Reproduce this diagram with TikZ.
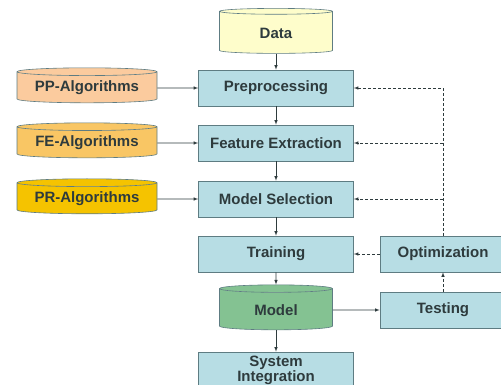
\documentclass[tikz,border=0pt]{standalone}
\usepackage{fontspec}
\setmainfont{Liberation Sans}
\usepackage{tikz}
\usetikzlibrary{shapes.geometric,calc,positioning}
\definecolor{colorbox}{HTML}{B7DDE4}
\definecolor{colorline}{HTML}{5E7C82}
\definecolor{colordata}{HTML}{FEFDCB}
\definecolor{colorpp}{HTML}{FBCB9E}
\definecolor{colorfe}{HTML}{F9C664}
\definecolor{colorpr}{HTML}{F5C300}
\definecolor{colormodel}{HTML}{84C292}
\definecolor{colortext}{HTML}{2E3B3D}
\tikzset{
  stepbox/.style={draw=colorline, fill=colorbox, minimum width=155pt, minimum height=36pt, align=center},
  store/.style={cylinder, shape border rotate=90, draw=colorline, aspect=0.15, cylinder uses custom fill,
    minimum width=113pt, minimum height=45pt},
  algstore/.style={store, aspect=0.07, minimum width=140pt, minimum height=35pt},
  edgeflow/.style={colortext, -latex},
  edgeback/.style={colortext, densely dashed, -latex}
}

\begin{document}
\begin{tikzpicture}[x=1pt, y=-1pt, font=\fontsize{15}{16}\selectfont\bfseries, text=colortext, line width=0.6pt]
\useasboundingbox (0,0) rectangle (501,385);
\node[store, cylinder body fill=colordata, cylinder end fill=colordata] (data) at (276,33) {Data};
\node[stepbox] (pre) at (276,88) {Preprocessing};
\node[stepbox] (fe) at (276,143) {Feature Extraction};
\node[stepbox] (ms) at (276,199) {Model Selection};
\node[stepbox] (train) at (276,254) {Training};
\node[store, cylinder body fill=colormodel, cylinder end fill=colormodel] (model) at (276,310) {Model};
\node[stepbox, minimum height=36pt, inner sep=1pt, font=\fontsize{15}{15}\selectfont\bfseries] (sysint) at (276,370) {System\\Integration};
\node[algstore, cylinder body fill=colorpp, cylinder end fill=colorpp] (ppalg) at (87,88) {PP-Algorithms};
\node[algstore, cylinder body fill=colorfe, cylinder end fill=colorfe] (fealg) at (87,143) {FE-Algorithms};
\node[algstore, cylinder body fill=colorpr, cylinder end fill=colorpr] (pralg) at (87,199) {PR-Algorithms};
\node[stepbox, minimum width=126pt] (opt) at (443,254) {Optimization};
\node[stepbox, minimum width=126pt] (test) at (443,310) {Testing};
% main flow
\draw[edgeflow] (data) -- (pre);
\draw[edgeflow] (pre) -- (fe);
\draw[edgeflow] (fe) -- (ms);
\draw[edgeflow] (ms) -- (train);
\draw[edgeflow] (train) -- (model);
\draw[edgeflow] (model) -- (sysint);
\draw[edgeflow] (ppalg) -- (pre);
\draw[edgeflow] (fealg) -- (fe);
\draw[edgeflow] (pralg) -- (ms);
\draw[edgeflow] (model) -- (test);
% feedback
\draw[edgeback] (test) -- (opt);
\draw[edgeback] (opt) -- (train);
\draw[edgeback] (opt.north) |- (pre.east);
\draw[edgeback] (opt.north |- fe.east) -- (fe.east);
\draw[edgeback] (opt.north |- ms.east) -- (ms.east);
\end{tikzpicture}
\end{document}
